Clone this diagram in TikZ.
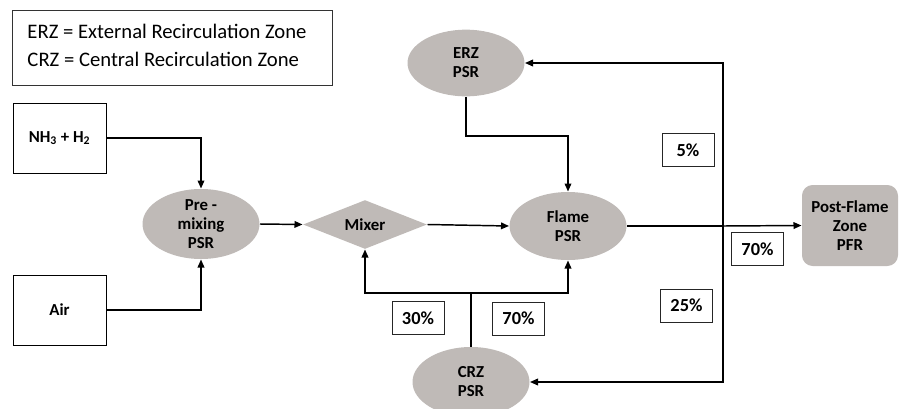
\documentclass[tikz,border=0pt]{standalone}
\usepackage{fontspec}
\setmainfont{Carlito}
\usetikzlibrary{shapes.geometric,arrows.meta}

\definecolor{reactorgray}{RGB}{191,186,183}
\tikzset{every picture/.style={line width=0.75pt}}
\tikzset{
  flow/.style={line width=1.1pt,-{Triangle[length=6pt,width=5pt]}},
  pipe/.style={line width=1.1pt},
  psr/.style={ellipse,fill=reactorgray,inner sep=0pt,minimum width=87.75pt,minimum height=51pt},
  psrtext/.style={align=center,font=\fontsize{12.6}{14.25}\selectfont\bfseries},
  inletbox/.style={draw,line width=0.75pt,minimum width=69.75pt,minimum height=52.5pt,inner sep=0pt,font=\fontsize{12.6}{14.25}\selectfont\bfseries},
  splitbox/.style={draw=black!85,line width=0.75pt,minimum width=39pt,minimum height=24.75pt,inner sep=0pt,font=\fontsize{13.8}{15}\selectfont\bfseries},
}

\begin{document}
\begin{tikzpicture}[x=0.75pt,y=0.75pt,yscale=-1,xscale=1]
\useasboundingbox (0,0) rectangle (901,408);

%Shape: Legend box
\draw [draw=black!80,line width=0.75pt] (12,10) rectangle (332,85);
\node [anchor=west,inner sep=0pt,align=left,font=\fontsize{15.5}{21}\selectfont] (key) at (27,45) {ERZ = External Recirculation Zone\\CRZ = Central Recirculation Zone};

%Shape: Inlet boxes
\node [inletbox] (nh3) at (59.5,138) {NH\textsubscript{3} + H\textsubscript{2}};
\node [inletbox] (air) at (59.5,310) {Air};

%Shape: Reactors
\node [psr,minimum height=52.5pt,label={[psrtext]center:{Pre -\\mixing\\PSR}}] (premix) at (201,224) {};
\node [diamond,fill=reactorgray,shape aspect=2.5,inner sep=0pt,minimum width=93pt,minimum height=36.75pt,font=\fontsize{12.6}{14.25}\selectfont\bfseries] (mixer) at (365,224.5) {Mixer};
\node [psr,label={[psrtext]center:{Flame\\PSR}}] (flame) at (568,226) {};
\node [psr,minimum height=50pt,label={[psrtext]center:{ERZ\\PSR}}] (erz) at (466,63) {};
\node [psr,minimum height=52.5pt,label={[psrtext]center:{CRZ\\PSR}}] (crz) at (471,382) {};
\node [rectangle,rounded corners=8pt,fill=reactorgray,minimum width=72pt,minimum height=60.75pt,align=center,font=\fontsize{12.6}{14.25}\selectfont\bfseries] (pfr) at (850,225.5) {Post-Flame\\Zone\\PFR};

%Straight Lines: junctions
\coordinate (erzdrop) at (568,136);
\coordinate (split) at (723,226);
\coordinate (crzsplit) at (471,293);

%Straight Lines: feeds
\draw [flow] (nh3.east) -| (premix.north);
\draw [flow] (air.east) -| (premix.south);
\draw [flow] (premix.east) -- (mixer.west);
\draw [flow] (mixer.east) -- (flame.west);
\draw [flow] (erz.south) |- (erzdrop) -- (flame.north);

%Straight Lines: flame outlet split
\draw [pipe] (flame.east) -- (split);
\draw [flow] (split) -- (pfr.west);
\draw [flow] (split) |- (erz.east);
\draw [flow] (split) |- (crz.east);

%Straight Lines: central recirculation
\draw [pipe] (crz.north) -- (crzsplit);
\draw [flow] (crzsplit) -| (mixer.south);
\draw [flow] (crzsplit) -| (flame.south);

% Text Node
\node [splitbox] (pcterz) at (688,150) {5\%};
% Text Node
\node [splitbox] (pctpfr) at (757.5,249) {70\%};
% Text Node
\node [splitbox] (pctcrz) at (686.5,305.5) {25\%};
% Text Node
\node [splitbox] (pctmix) at (418,318) {30\%};
% Text Node
\node [splitbox] (pctflame) at (518.5,318.5) {70\%};

\end{tikzpicture}
\end{document}
